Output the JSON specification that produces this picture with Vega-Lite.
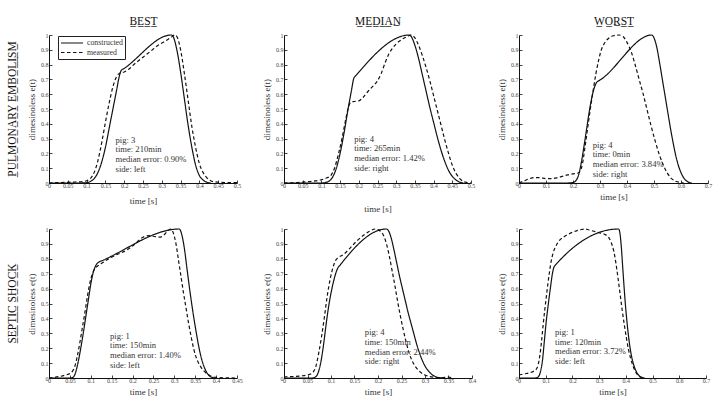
{
  "$schema": "https://vega.github.io/schema/vega-lite/v6.json",
  "background": "white",
  "padding": {"left": 6, "top": 15, "right": 4, "bottom": 2},
  "config": {
    "view": {"stroke": null},
    "font": "Liberation Serif",
    "title": {"font": "Liberation Serif", "fontSize": 11.5, "fontWeight": "normal", "color": "#111"},
    "axis": {
      "grid": false, "domainColor": "#111", "domainWidth": 1, "tickColor": "#111", "tickWidth": 0.8, "tickSize": -3,
      "labelFont": "Liberation Serif", "labelFontSize": 6, "labelColor": "#444", "labelFlush": false, "labelOverlap": false,
      "titleFont": "Liberation Serif", "titleFontSize": 9, "titleFontWeight": "normal", "titleColor": "#333"
    },
    "axisX": {"labelPadding": 2, "titlePadding": 5, "format": "~g"},
    "axisY": {"labelPadding": 4, "titlePadding": 4, "format": "~g"},
    "line": {"interpolate": "monotone", "strokeWidth": 1.2, "color": "#111"},
    "text": {"font": "Liberation Serif", "fontSize": 8.6, "color": "#333", "align": "left", "baseline": "top", "lineBreak": "\n", "lineHeight": 9.7}
  },
  "datasets": {
    "notes": [
      {"panel": "pe_best", "note": "pig: 3\ntime: 210min\nmedian error: 0.90%\nside: left"},
      {"panel": "pe_median", "note": "pig: 4\ntime: 265min\nmedian error: 1.42%\nside: right"},
      {"panel": "pe_worst", "note": "pig: 4\ntime: 0min\nmedian error: 3.84%\nside: right"},
      {"panel": "ss_best", "note": "pig: 1\ntime: 150min\nmedian error: 1.40%\nside: left"},
      {"panel": "ss_median", "note": "pig: 4\ntime: 150min\nmedian error: 2.44%\nside: right"},
      {"panel": "ss_worst", "note": "pig: 1\ntime: 120min\nmedian error: 3.72%\nside: left"}
    ],
    "pe_best": [
      {"series":"constructed","t":0,"e":0},{"series":"constructed","t":0.08,"e":0},{"series":"constructed","t":0.1,"e":0.002},{"series":"constructed","t":0.11,"e":0.01},{"series":"constructed","t":0.12,"e":0.03},{"series":"constructed","t":0.13,"e":0.07},{"series":"constructed","t":0.14,"e":0.14},{"series":"constructed","t":0.15,"e":0.24},{"series":"constructed","t":0.16,"e":0.37},{"series":"constructed","t":0.17,"e":0.5},{"series":"constructed","t":0.18,"e":0.63},{"series":"constructed","t":0.186,"e":0.71},{"series":"constructed","t":0.192,"e":0.76},{"series":"constructed","t":0.2,"e":0.774},{"series":"constructed","t":0.325,"e":1.0},{"series":"constructed","t":0.33,"e":0.99},{"series":"constructed","t":0.34,"e":0.9},{"series":"constructed","t":0.35,"e":0.75},{"series":"constructed","t":0.36,"e":0.57},{"series":"constructed","t":0.37,"e":0.39},{"series":"constructed","t":0.38,"e":0.24},{"series":"constructed","t":0.39,"e":0.12},{"series":"constructed","t":0.4,"e":0.05},{"series":"constructed","t":0.41,"e":0.02},{"series":"constructed","t":0.42,"e":0.005},{"series":"constructed","t":0.43,"e":0},
      {"series":"measured","t":0,"e":0},{"series":"measured","t":0.03,"e":0.003},{"series":"measured","t":0.06,"e":0.006},{"series":"measured","t":0.09,"e":0.01},{"series":"measured","t":0.1,"e":0.015},{"series":"measured","t":0.11,"e":0.03},{"series":"measured","t":0.12,"e":0.07},{"series":"measured","t":0.13,"e":0.15},{"series":"measured","t":0.14,"e":0.27},{"series":"measured","t":0.15,"e":0.41},{"series":"measured","t":0.16,"e":0.54},{"series":"measured","t":0.17,"e":0.65},{"series":"measured","t":0.18,"e":0.72},{"series":"measured","t":0.19,"e":0.745},{"series":"measured","t":0.2,"e":0.75},{"series":"measured","t":0.21,"e":0.765},{"series":"measured","t":0.23,"e":0.81},{"series":"measured","t":0.25,"e":0.85},{"series":"measured","t":0.27,"e":0.89},{"series":"measured","t":0.29,"e":0.93},{"series":"measured","t":0.31,"e":0.96},{"series":"measured","t":0.325,"e":0.985},{"series":"measured","t":0.335,"e":1.0},{"series":"measured","t":0.34,"e":0.99},{"series":"measured","t":0.35,"e":0.9},{"series":"measured","t":0.36,"e":0.74},{"series":"measured","t":0.37,"e":0.56},{"series":"measured","t":0.38,"e":0.38},{"series":"measured","t":0.39,"e":0.24},{"series":"measured","t":0.4,"e":0.13},{"series":"measured","t":0.41,"e":0.07},{"series":"measured","t":0.42,"e":0.035},{"series":"measured","t":0.43,"e":0.015},{"series":"measured","t":0.44,"e":0.008},{"series":"measured","t":0.46,"e":0.004},{"series":"measured","t":0.5,"e":0.002}
    ],
    "pe_median": [
      {"series":"constructed","t":0,"e":0},{"series":"constructed","t":0.1,"e":0},{"series":"constructed","t":0.11,"e":0.003},{"series":"constructed","t":0.12,"e":0.012},{"series":"constructed","t":0.13,"e":0.04},{"series":"constructed","t":0.14,"e":0.1},{"series":"constructed","t":0.15,"e":0.2},{"series":"constructed","t":0.16,"e":0.33},{"series":"constructed","t":0.17,"e":0.48},{"series":"constructed","t":0.18,"e":0.62},{"series":"constructed","t":0.187,"e":0.71},{"series":"constructed","t":0.192,"e":0.725},{"series":"constructed","t":0.335,"e":1.0},{"series":"constructed","t":0.34,"e":0.99},{"series":"constructed","t":0.35,"e":0.93},{"series":"constructed","t":0.36,"e":0.84},{"series":"constructed","t":0.37,"e":0.73},{"series":"constructed","t":0.38,"e":0.62},{"series":"constructed","t":0.39,"e":0.51},{"series":"constructed","t":0.4,"e":0.41},{"series":"constructed","t":0.41,"e":0.31},{"series":"constructed","t":0.42,"e":0.22},{"series":"constructed","t":0.43,"e":0.145},{"series":"constructed","t":0.44,"e":0.085},{"series":"constructed","t":0.45,"e":0.045},{"series":"constructed","t":0.46,"e":0.02},{"series":"constructed","t":0.47,"e":0.005},{"series":"constructed","t":0.48,"e":0},
      {"series":"measured","t":0,"e":0},{"series":"measured","t":0.03,"e":0.002},{"series":"measured","t":0.05,"e":0.006},{"series":"measured","t":0.08,"e":0.013},{"series":"measured","t":0.1,"e":0.022},{"series":"measured","t":0.115,"e":0.035},{"series":"measured","t":0.125,"e":0.05},{"series":"measured","t":0.135,"e":0.1},{"series":"measured","t":0.145,"e":0.19},{"series":"measured","t":0.155,"e":0.3},{"series":"measured","t":0.165,"e":0.43},{"series":"measured","t":0.172,"e":0.51},{"series":"measured","t":0.178,"e":0.545},{"series":"measured","t":0.185,"e":0.55},{"series":"measured","t":0.2,"e":0.555},{"series":"measured","t":0.21,"e":0.575},{"series":"measured","t":0.225,"e":0.62},{"series":"measured","t":0.24,"e":0.66},{"series":"measured","t":0.25,"e":0.69},{"series":"measured","t":0.26,"e":0.74},{"series":"measured","t":0.27,"e":0.81},{"series":"measured","t":0.28,"e":0.87},{"series":"measured","t":0.29,"e":0.91},{"series":"measured","t":0.3,"e":0.94},{"series":"measured","t":0.315,"e":0.97},{"series":"measured","t":0.33,"e":0.99},{"series":"measured","t":0.342,"e":1.0},{"series":"measured","t":0.35,"e":0.98},{"series":"measured","t":0.36,"e":0.93},{"series":"measured","t":0.37,"e":0.86},{"series":"measured","t":0.38,"e":0.78},{"series":"measured","t":0.39,"e":0.69},{"series":"measured","t":0.4,"e":0.59},{"series":"measured","t":0.41,"e":0.49},{"series":"measured","t":0.42,"e":0.39},{"series":"measured","t":0.43,"e":0.29},{"series":"measured","t":0.44,"e":0.2},{"series":"measured","t":0.45,"e":0.12},{"series":"measured","t":0.46,"e":0.065},{"series":"measured","t":0.47,"e":0.03},{"series":"measured","t":0.48,"e":0.01},{"series":"measured","t":0.49,"e":0.003},{"series":"measured","t":0.5,"e":0}
    ],
    "pe_worst": [
      {"series":"constructed","t":0,"e":0},{"series":"constructed","t":0.18,"e":0},{"series":"constructed","t":0.2,"e":0.003},{"series":"constructed","t":0.21,"e":0.015},{"series":"constructed","t":0.22,"e":0.05},{"series":"constructed","t":0.23,"e":0.13},{"series":"constructed","t":0.24,"e":0.24},{"series":"constructed","t":0.25,"e":0.36},{"series":"constructed","t":0.26,"e":0.48},{"series":"constructed","t":0.27,"e":0.58},{"series":"constructed","t":0.28,"e":0.65},{"series":"constructed","t":0.29,"e":0.685},{"series":"constructed","t":0.295,"e":0.69},{"series":"constructed","t":0.492,"e":1.0},{"series":"constructed","t":0.5,"e":0.98},{"series":"constructed","t":0.51,"e":0.92},{"series":"constructed","t":0.52,"e":0.82},{"series":"constructed","t":0.53,"e":0.71},{"series":"constructed","t":0.54,"e":0.6},{"series":"constructed","t":0.55,"e":0.49},{"series":"constructed","t":0.56,"e":0.38},{"series":"constructed","t":0.57,"e":0.28},{"series":"constructed","t":0.58,"e":0.19},{"series":"constructed","t":0.59,"e":0.12},{"series":"constructed","t":0.6,"e":0.07},{"series":"constructed","t":0.61,"e":0.035},{"series":"constructed","t":0.62,"e":0.015},{"series":"constructed","t":0.63,"e":0.004},{"series":"constructed","t":0.64,"e":0},
      {"series":"measured","t":0,"e":0},{"series":"measured","t":0.02,"e":0.015},{"series":"measured","t":0.04,"e":0.03},{"series":"measured","t":0.06,"e":0.037},{"series":"measured","t":0.08,"e":0.035},{"series":"measured","t":0.1,"e":0.03},{"series":"measured","t":0.12,"e":0.03},{"series":"measured","t":0.14,"e":0.035},{"series":"measured","t":0.16,"e":0.045},{"series":"measured","t":0.18,"e":0.055},{"series":"measured","t":0.2,"e":0.062},{"series":"measured","t":0.215,"e":0.065},{"series":"measured","t":0.225,"e":0.075},{"series":"measured","t":0.235,"e":0.13},{"series":"measured","t":0.245,"e":0.25},{"series":"measured","t":0.255,"e":0.38},{"series":"measured","t":0.265,"e":0.51},{"series":"measured","t":0.275,"e":0.63},{"series":"measured","t":0.285,"e":0.74},{"series":"measured","t":0.295,"e":0.83},{"series":"measured","t":0.305,"e":0.9},{"series":"measured","t":0.315,"e":0.94},{"series":"measured","t":0.33,"e":0.975},{"series":"measured","t":0.35,"e":0.995},{"series":"measured","t":0.37,"e":1.0},{"series":"measured","t":0.385,"e":0.99},{"series":"measured","t":0.4,"e":0.95},{"series":"measured","t":0.415,"e":0.89},{"series":"measured","t":0.43,"e":0.8},{"series":"measured","t":0.445,"e":0.7},{"series":"measured","t":0.46,"e":0.6},{"series":"measured","t":0.475,"e":0.49},{"series":"measured","t":0.49,"e":0.38},{"series":"measured","t":0.505,"e":0.28},{"series":"measured","t":0.52,"e":0.19},{"series":"measured","t":0.535,"e":0.12},{"series":"measured","t":0.55,"e":0.065},{"series":"measured","t":0.565,"e":0.03},{"series":"measured","t":0.58,"e":0.012},{"series":"measured","t":0.6,"e":0.003},{"series":"measured","t":0.61,"e":0}
    ],
    "ss_best": [
      {"series":"constructed","t":0,"e":0},{"series":"constructed","t":0.05,"e":0},{"series":"constructed","t":0.058,"e":0.005},{"series":"constructed","t":0.064,"e":0.04},{"series":"constructed","t":0.07,"e":0.11},{"series":"constructed","t":0.076,"e":0.2},{"series":"constructed","t":0.082,"e":0.3},{"series":"constructed","t":0.088,"e":0.41},{"series":"constructed","t":0.094,"e":0.52},{"series":"constructed","t":0.1,"e":0.63},{"series":"constructed","t":0.106,"e":0.71},{"series":"constructed","t":0.112,"e":0.755},{"series":"constructed","t":0.12,"e":0.779},{"series":"constructed","t":0.125,"e":0.785},{"series":"constructed","t":0.312,"e":1.0},{"series":"constructed","t":0.318,"e":0.96},{"series":"constructed","t":0.324,"e":0.87},{"series":"constructed","t":0.33,"e":0.74},{"series":"constructed","t":0.336,"e":0.61},{"series":"constructed","t":0.342,"e":0.49},{"series":"constructed","t":0.348,"e":0.38},{"series":"constructed","t":0.354,"e":0.28},{"series":"constructed","t":0.36,"e":0.19},{"series":"constructed","t":0.366,"e":0.12},{"series":"constructed","t":0.372,"e":0.07},{"series":"constructed","t":0.378,"e":0.035},{"series":"constructed","t":0.385,"e":0.012},{"series":"constructed","t":0.392,"e":0.003},{"series":"constructed","t":0.4,"e":0},
      {"series":"measured","t":0,"e":0},{"series":"measured","t":0.01,"e":0.003},{"series":"measured","t":0.025,"e":0.01},{"series":"measured","t":0.04,"e":0.02},{"series":"measured","t":0.05,"e":0.03},{"series":"measured","t":0.056,"e":0.045},{"series":"measured","t":0.062,"e":0.08},{"series":"measured","t":0.068,"e":0.15},{"series":"measured","t":0.074,"e":0.24},{"series":"measured","t":0.08,"e":0.34},{"series":"measured","t":0.086,"e":0.44},{"series":"measured","t":0.092,"e":0.55},{"series":"measured","t":0.098,"e":0.64},{"series":"measured","t":0.104,"e":0.7},{"series":"measured","t":0.11,"e":0.735},{"series":"measured","t":0.118,"e":0.755},{"series":"measured","t":0.126,"e":0.77},{"series":"measured","t":0.14,"e":0.795},{"series":"measured","t":0.16,"e":0.825},{"series":"measured","t":0.18,"e":0.85},{"series":"measured","t":0.195,"e":0.875},{"series":"measured","t":0.21,"e":0.91},{"series":"measured","t":0.225,"e":0.945},{"series":"measured","t":0.24,"e":0.955},{"series":"measured","t":0.255,"e":0.948},{"series":"measured","t":0.265,"e":0.945},{"series":"measured","t":0.275,"e":0.96},{"series":"measured","t":0.285,"e":0.99},{"series":"measured","t":0.292,"e":1.0},{"series":"measured","t":0.298,"e":0.97},{"series":"measured","t":0.304,"e":0.9},{"series":"measured","t":0.31,"e":0.79},{"series":"measured","t":0.316,"e":0.68},{"series":"measured","t":0.322,"e":0.57},{"series":"measured","t":0.328,"e":0.47},{"series":"measured","t":0.334,"e":0.37},{"series":"measured","t":0.34,"e":0.28},{"series":"measured","t":0.346,"e":0.2},{"series":"measured","t":0.352,"e":0.14},{"series":"measured","t":0.36,"e":0.09},{"series":"measured","t":0.37,"e":0.05},{"series":"measured","t":0.38,"e":0.025},{"series":"measured","t":0.39,"e":0.01},{"series":"measured","t":0.4,"e":0.004},{"series":"measured","t":0.42,"e":0.001},{"series":"measured","t":0.45,"e":0}
    ],
    "ss_median": [
      {"series":"constructed","t":0,"e":0},{"series":"constructed","t":0.06,"e":0},{"series":"constructed","t":0.066,"e":0.005},{"series":"constructed","t":0.072,"e":0.03},{"series":"constructed","t":0.078,"e":0.1},{"series":"constructed","t":0.084,"e":0.22},{"series":"constructed","t":0.09,"e":0.37},{"series":"constructed","t":0.096,"e":0.5},{"series":"constructed","t":0.102,"e":0.6},{"series":"constructed","t":0.108,"e":0.68},{"series":"constructed","t":0.114,"e":0.735},{"series":"constructed","t":0.12,"e":0.76},{"series":"constructed","t":0.218,"e":1.0},{"series":"constructed","t":0.222,"e":0.99},{"series":"constructed","t":0.228,"e":0.94},{"series":"constructed","t":0.234,"e":0.86},{"series":"constructed","t":0.24,"e":0.77},{"series":"constructed","t":0.246,"e":0.68},{"series":"constructed","t":0.252,"e":0.6},{"series":"constructed","t":0.258,"e":0.52},{"series":"constructed","t":0.264,"e":0.44},{"series":"constructed","t":0.27,"e":0.37},{"series":"constructed","t":0.276,"e":0.3},{"series":"constructed","t":0.282,"e":0.23},{"series":"constructed","t":0.288,"e":0.17},{"series":"constructed","t":0.294,"e":0.12},{"series":"constructed","t":0.3,"e":0.08},{"series":"constructed","t":0.308,"e":0.045},{"series":"constructed","t":0.316,"e":0.02},{"series":"constructed","t":0.324,"e":0.007},{"series":"constructed","t":0.332,"e":0.002},{"series":"constructed","t":0.34,"e":0},
      {"series":"measured","t":0,"e":0.008},{"series":"measured","t":0.02,"e":0.01},{"series":"measured","t":0.04,"e":0.015},{"series":"measured","t":0.055,"e":0.025},{"series":"measured","t":0.062,"e":0.04},{"series":"measured","t":0.068,"e":0.08},{"series":"measured","t":0.074,"e":0.17},{"series":"measured","t":0.08,"e":0.28},{"series":"measured","t":0.086,"e":0.41},{"series":"measured","t":0.092,"e":0.55},{"series":"measured","t":0.098,"e":0.66},{"series":"measured","t":0.104,"e":0.74},{"series":"measured","t":0.11,"e":0.79},{"series":"measured","t":0.116,"e":0.81},{"series":"measured","t":0.125,"e":0.825},{"series":"measured","t":0.14,"e":0.87},{"series":"measured","t":0.155,"e":0.92},{"series":"measured","t":0.17,"e":0.96},{"series":"measured","t":0.182,"e":0.985},{"series":"measured","t":0.195,"e":1.0},{"series":"measured","t":0.205,"e":0.985},{"series":"measured","t":0.212,"e":0.955},{"series":"measured","t":0.218,"e":0.9},{"series":"measured","t":0.224,"e":0.82},{"series":"measured","t":0.23,"e":0.72},{"series":"measured","t":0.236,"e":0.62},{"series":"measured","t":0.242,"e":0.51},{"series":"measured","t":0.248,"e":0.41},{"series":"measured","t":0.254,"e":0.32},{"series":"measured","t":0.26,"e":0.24},{"series":"measured","t":0.266,"e":0.17},{"series":"measured","t":0.272,"e":0.12},{"series":"measured","t":0.28,"e":0.075},{"series":"measured","t":0.29,"e":0.04},{"series":"measured","t":0.3,"e":0.02},{"series":"measured","t":0.31,"e":0.01},{"series":"measured","t":0.32,"e":0.005},{"series":"measured","t":0.335,"e":0.002},{"series":"measured","t":0.35,"e":0.006},{"series":"measured","t":0.36,"e":0}
    ],
    "ss_worst": [
      {"series":"constructed","t":0,"e":0},{"series":"constructed","t":0.06,"e":0},{"series":"constructed","t":0.07,"e":0.005},{"series":"constructed","t":0.08,"e":0.04},{"series":"constructed","t":0.088,"e":0.12},{"series":"constructed","t":0.095,"e":0.25},{"series":"constructed","t":0.102,"e":0.38},{"series":"constructed","t":0.11,"e":0.5},{"series":"constructed","t":0.118,"e":0.61},{"series":"constructed","t":0.125,"e":0.7},{"series":"constructed","t":0.13,"e":0.74},{"series":"constructed","t":0.135,"e":0.755},{"series":"constructed","t":0.373,"e":1.0},{"series":"constructed","t":0.378,"e":0.97},{"series":"constructed","t":0.383,"e":0.88},{"series":"constructed","t":0.388,"e":0.75},{"series":"constructed","t":0.393,"e":0.62},{"series":"constructed","t":0.398,"e":0.5},{"series":"constructed","t":0.404,"e":0.38},{"series":"constructed","t":0.41,"e":0.28},{"series":"constructed","t":0.416,"e":0.2},{"series":"constructed","t":0.422,"e":0.14},{"series":"constructed","t":0.43,"e":0.085},{"series":"constructed","t":0.44,"e":0.04},{"series":"constructed","t":0.45,"e":0.015},{"series":"constructed","t":0.46,"e":0.004},{"series":"constructed","t":0.47,"e":0},
      {"series":"measured","t":0,"e":0.02},{"series":"measured","t":0.02,"e":0.028},{"series":"measured","t":0.04,"e":0.035},{"series":"measured","t":0.055,"e":0.045},{"series":"measured","t":0.065,"e":0.06},{"series":"measured","t":0.072,"e":0.09},{"series":"measured","t":0.078,"e":0.15},{"series":"measured","t":0.084,"e":0.24},{"series":"measured","t":0.09,"e":0.35},{"series":"measured","t":0.096,"e":0.45},{"series":"measured","t":0.102,"e":0.54},{"series":"measured","t":0.108,"e":0.63},{"series":"measured","t":0.114,"e":0.71},{"series":"measured","t":0.12,"e":0.78},{"series":"measured","t":0.128,"e":0.84},{"series":"measured","t":0.138,"e":0.885},{"series":"measured","t":0.15,"e":0.92},{"series":"measured","t":0.17,"e":0.95},{"series":"measured","t":0.19,"e":0.97},{"series":"measured","t":0.21,"e":0.985},{"series":"measured","t":0.23,"e":0.995},{"series":"measured","t":0.245,"e":1.0},{"series":"measured","t":0.26,"e":0.995},{"series":"measured","t":0.28,"e":0.985},{"series":"measured","t":0.3,"e":0.975},{"series":"measured","t":0.32,"e":0.965},{"series":"measured","t":0.335,"e":0.945},{"series":"measured","t":0.345,"e":0.91},{"series":"measured","t":0.355,"e":0.85},{"series":"measured","t":0.362,"e":0.78},{"series":"measured","t":0.37,"e":0.68},{"series":"measured","t":0.378,"e":0.57},{"series":"measured","t":0.386,"e":0.46},{"series":"measured","t":0.394,"e":0.36},{"series":"measured","t":0.402,"e":0.27},{"series":"measured","t":0.41,"e":0.19},{"series":"measured","t":0.418,"e":0.13},{"series":"measured","t":0.426,"e":0.085},{"series":"measured","t":0.434,"e":0.05},{"series":"measured","t":0.442,"e":0.025},{"series":"measured","t":0.45,"e":0.01},{"series":"measured","t":0.46,"e":0.003},{"series":"measured","t":0.47,"e":0}
    ]
  },
  "columns": 3,
  "align": "all",
  "bounds": "flush",
  "spacing": {"row": 45, "column": 46},
  "concat": [
    {
      "width": 188, "height": 148,
      "title": {"text": "P̲U̲L̲M̲O̲N̲A̲R̲Y̲ E̲M̲B̲O̲L̲I̲S̲M̲", "orient": "left", "anchor": "middle", "offset": 9},
      "resolve": {"axis": {"x": "independent", "y": "independent"}},
      "layer": [
        {
          "data": {"name": "notes"},
          "transform": [{"filter": "datum.panel === 'pe_best'"}],
          "mark": "text",
          "encoding": {
            "x": {"datum": 0.177, "axis": {"orient": "top", "title": "B̲E̲S̲T̲", "labels": false, "ticks": false, "domain": false, "titleFontSize": 11.5, "titleColor": "#111", "titlePadding": 9}},
            "y": {"datum": 0.32, "axis": null},
            "text": {"field": "note"}
          }
        },
        {
          "data": {"name": "pe_best"},
          "mark": "line",
          "encoding": {
            "x": {"field": "t", "type": "quantitative", "scale": {"domain": [0, 0.5], "nice": false}, "axis": {"orient": "bottom", "title": "time [s]", "titlePadding": 8, "values": [0,0.05,0.1,0.15,0.2,0.25,0.3,0.35,0.4,0.45,0.5]}},
            "y": {"field": "e", "type": "quantitative", "scale": {"domain": [0, 1], "nice": false}, "axis": {"title": "dimesinoless e(t)", "values": [0,0.1,0.2,0.3,0.4,0.5,0.6,0.7,0.8,0.9,1]}},
            "strokeDash": {
              "field": "series", "type": "nominal",
              "scale": {"domain": ["constructed", "measured"], "range": [[1, 0], [3.5, 2.5]]},
              "legend": {
                "title": null, "orient": "none", "legendX": 9, "legendY": 1,
                "symbolType": "M-1,0H4.5", "symbolSize": 64, "symbolStrokeWidth": 1.1, "symbolStrokeColor": "#111",
                "labelFont": "Liberation Serif", "labelFontSize": 7.8, "labelColor": "#333", "labelOffset": 17,
                "strokeColor": "#222", "fillColor": "white", "padding": 2, "rowPadding": 0.5, "cornerRadius": 0
              }
            }
          }
        }
      ]
    },
    {
      "width": 187, "height": 148,
      "resolve": {"axis": {"x": "independent", "y": "independent"}},
      "layer": [
        {
          "data": {"name": "notes"},
          "transform": [{"filter": "datum.panel === 'pe_median'"}],
          "mark": "text",
          "encoding": {
            "x": {"datum": 0.1875, "axis": {"orient": "top", "title": "M̲E̲D̲I̲A̲N̲", "labels": false, "ticks": false, "domain": false, "titleFontSize": 11.5, "titleColor": "#111", "titlePadding": 9}},
            "y": {"datum": 0.327, "axis": null},
            "text": {"field": "note"}
          }
        },
        {
          "data": {"name": "pe_median"},
          "mark": "line",
          "encoding": {
            "x": {"field": "t", "type": "quantitative", "scale": {"domain": [0, 0.5], "nice": false}, "axis": {"orient": "bottom", "title": "time [s]", "titlePadding": 16, "values": [0,0.05,0.1,0.15,0.2,0.25,0.3,0.35,0.4,0.45,0.5]}},
            "y": {"field": "e", "type": "quantitative", "scale": {"domain": [0, 1], "nice": false}, "axis": {"title": "dimesinoless e(t)", "values": [0,0.1,0.2,0.3,0.4,0.5,0.6,0.7,0.8,0.9,1]}},
            "strokeDash": {"field": "series", "type": "nominal", "scale": {"domain": ["constructed", "measured"], "range": [[1, 0], [3.5, 2.5]]}, "legend": null}
          }
        }
      ]
    },
    {
      "width": 189, "height": 148,
      "resolve": {"axis": {"x": "independent", "y": "independent"}},
      "layer": [
        {
          "data": {"name": "notes"},
          "transform": [{"filter": "datum.panel === 'pe_worst'"}],
          "mark": "text",
          "encoding": {
            "x": {"datum": 0.273, "axis": {"orient": "top", "title": "W̲O̲R̲S̲T̲", "labels": false, "ticks": false, "domain": false, "titleFontSize": 11.5, "titleColor": "#111", "titlePadding": 9}},
            "y": {"datum": 0.287, "axis": null},
            "text": {"field": "note"}
          }
        },
        {
          "data": {"name": "pe_worst"},
          "mark": "line",
          "encoding": {
            "x": {"field": "t", "type": "quantitative", "scale": {"domain": [0, 0.7], "nice": false}, "axis": {"orient": "bottom", "title": "time [s]", "titlePadding": 4, "values": [0,0.1,0.2,0.3,0.4,0.5,0.6,0.7]}},
            "y": {"field": "e", "type": "quantitative", "scale": {"domain": [0, 1], "nice": false}, "axis": {"title": "dimesinoless e(t)", "values": [0,0.1,0.2,0.3,0.4,0.5,0.6,0.7,0.8,0.9,1]}},
            "strokeDash": {"field": "series", "type": "nominal", "scale": {"domain": ["constructed", "measured"], "range": [[1, 0], [3.5, 2.5]]}, "legend": null}
          }
        }
      ]
    },
    {
      "width": 188, "height": 149,
      "title": {"text": "S̲E̲P̲T̲I̲C̲ S̲H̲O̲C̲K̲", "orient": "left", "anchor": "middle", "offset": 9},
      "resolve": {"axis": {"x": "independent", "y": "independent"}},
      "layer": [
        {
          "data": {"name": "ss_best"},
          "mark": "line",
          "encoding": {
            "x": {"field": "t", "type": "quantitative", "scale": {"domain": [0, 0.45], "nice": false}, "axis": {"title": "time [s]", "titlePadding": 4, "values": [0,0.05,0.1,0.15,0.2,0.25,0.3,0.35,0.4,0.45]}},
            "y": {"field": "e", "type": "quantitative", "scale": {"domain": [0, 1], "nice": false}, "axis": {"title": "dimesinoless e(t)", "values": [0,0.1,0.2,0.3,0.4,0.5,0.6,0.7,0.8,0.9,1]}},
            "strokeDash": {"field": "series", "type": "nominal", "scale": {"domain": ["constructed", "measured"], "range": [[1, 0], [3.5, 2.5]]}, "legend": null}
          }
        },
        {
          "data": {"name": "notes"},
          "transform": [{"filter": "datum.panel === 'ss_best'"}],
          "mark": "text",
          "encoding": {"x": {"datum": 0.146, "axis": null}, "y": {"datum": 0.312, "axis": null}, "text": {"field": "note"}}
        }
      ]
    },
    {
      "width": 188, "height": 149,
      "resolve": {"axis": {"x": "independent", "y": "independent"}},
      "layer": [
        {
          "data": {"name": "ss_median"},
          "mark": "line",
          "encoding": {
            "x": {"field": "t", "type": "quantitative", "scale": {"domain": [0, 0.4], "nice": false}, "axis": {"title": "time [s]", "titlePadding": 4, "values": [0,0.05,0.1,0.15,0.2,0.25,0.3,0.35,0.4]}},
            "y": {"field": "e", "type": "quantitative", "scale": {"domain": [0, 1], "nice": false}, "axis": {"title": "dimesinoless e(t)", "values": [0,0.1,0.2,0.3,0.4,0.5,0.6,0.7,0.8,0.9,1]}},
            "strokeDash": {"field": "series", "type": "nominal", "scale": {"domain": ["constructed", "measured"], "range": [[1, 0], [3.5, 2.5]]}, "legend": null}
          }
        },
        {
          "data": {"name": "notes"},
          "transform": [{"filter": "datum.panel === 'ss_median'"}],
          "mark": "text",
          "encoding": {"x": {"datum": 0.172, "axis": null}, "y": {"datum": 0.333, "axis": null}, "text": {"field": "note"}}
        }
      ]
    },
    {
      "width": 187, "height": 149,
      "resolve": {"axis": {"x": "independent", "y": "independent"}},
      "layer": [
        {
          "data": {"name": "ss_worst"},
          "mark": "line",
          "encoding": {
            "x": {"field": "t", "type": "quantitative", "scale": {"domain": [0, 0.7], "nice": false}, "axis": {"title": "time [s]", "titlePadding": 4, "values": [0,0.1,0.2,0.3,0.4,0.5,0.6,0.7]}},
            "y": {"field": "e", "type": "quantitative", "scale": {"domain": [0, 1], "nice": false}, "axis": {"title": "dimesinoless e(t)", "values": [0,0.1,0.2,0.3,0.4,0.5,0.6,0.7,0.8,0.9,1]}},
            "strokeDash": {"field": "series", "type": "nominal", "scale": {"domain": ["constructed", "measured"], "range": [[1, 0], [3.5, 2.5]]}, "legend": null}
          }
        },
        {
          "data": {"name": "notes"},
          "transform": [{"filter": "datum.panel === 'ss_worst'"}],
          "mark": "text",
          "encoding": {"x": {"datum": 0.135, "axis": null}, "y": {"datum": 0.335, "axis": null}, "text": {"field": "note"}}
        }
      ]
    }
  ]
}
